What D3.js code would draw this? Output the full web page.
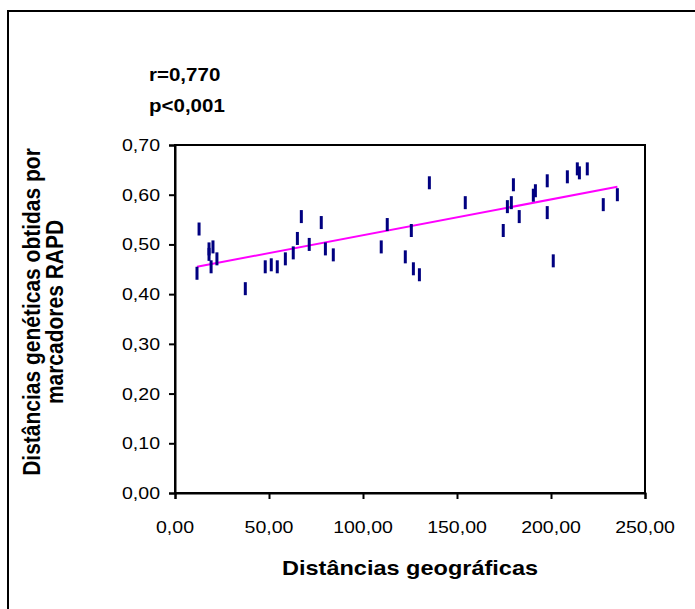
<!DOCTYPE html>
<html><head><meta charset="utf-8">
<script src="https://cdn.jsdelivr.net/npm/d3@7"></script>
<style>body{margin:0;background:#fff} svg{display:block}</style>
</head><body>
<svg id="c" width="695" height="609"></svg>
<script>
// Data
const geoDist = [11.7, 12.8, 18.1, 18.1, 19.2, 20.2, 22.3, 37.4, 48.0, 51.2, 54.4, 58.7, 62.9, 65.1, 67.2, 71.4, 77.8, 80.0, 84.2, 109.7, 112.9, 122.5, 125.7, 126.8, 130.0, 135.3, 154.4, 174.6, 176.8, 178.9, 180.0, 183.1, 190.6, 191.7, 198.0, 198.0, 201.2, 208.7, 214.0, 215.1, 219.3, 227.8, 235.3];
const genDist = [0.442, 0.531, 0.491, 0.480, 0.455, 0.495, 0.471, 0.411, 0.455, 0.459, 0.455, 0.471, 0.483, 0.512, 0.556, 0.500, 0.544, 0.491, 0.479, 0.495, 0.540, 0.475, 0.528, 0.451, 0.439, 0.624, 0.584, 0.528, 0.576, 0.584, 0.620, 0.556, 0.599, 0.608, 0.628, 0.564, 0.467, 0.636, 0.652, 0.644, 0.652, 0.580, 0.600];
const xTicks = [0, 50, 100, 150, 200, 250];
const yTicks = [0, 0.1, 0.2, 0.3, 0.4, 0.5, 0.6, 0.7];
const trendIntercept = 0.4467;
const trendSlope = 0.000719;
const statsLabels = ["r=0,770", "p<0,001"];
const xTitle = "Distâncias geográficas";
const yTitleLines = ["Distâncias genéticas obtidas por", "marcadores RAPD"];

const svg = d3.select("#c");
const font = "'Liberation Sans', Arial, sans-serif";

const x = d3.scaleLinear().domain([0, 250]).range([175, 645]);
const y = d3.scaleLinear().domain([0, 0.7]).range([493, 145]);
const fmt = v => d3.format(".2f")(v).replace(".", ",");

// outer frame
svg.append("rect").attr("x", 8).attr("y", 11).attr("width", 720).attr("height", 640)
  .attr("fill", "none").attr("stroke", "#000").attr("stroke-width", 2);

// plot area border
svg.append("rect").attr("x", x(0)).attr("y", y(0.7)).attr("width", x(250) - x(0)).attr("height", y(0) - y(0.7))
  .attr("fill", "none").attr("stroke", "#000").attr("stroke-width", 2);

// axes
const xAxis = d3.axisBottom(x).tickValues(xTicks).tickSize(6).tickFormat(fmt);
const yAxis = d3.axisLeft(y).tickValues(yTicks).tickSize(6).tickFormat(fmt);

const gx = svg.append("g").attr("transform", `translate(0,${y(0)})`).call(xAxis);
const gy = svg.append("g").attr("transform", `translate(${x(0)},0)`).call(yAxis);
[gx, gy].forEach(g => {
  g.select(".domain").attr("stroke", "#000").attr("stroke-width", 2);
  g.selectAll(".tick line").attr("stroke", "#000").attr("stroke-width", 2);
});
gx.selectAll(".tick text").remove();
gy.selectAll(".tick text").remove();

// tick labels (stretched like the original)
xTicks.forEach(t => {
  svg.append("text").attr("transform", `translate(${x(t)},533) scale(1.15,1)`)
    .attr("text-anchor", "middle").attr("font-family", font).attr("font-size", 17).attr("fill", "#000").text(fmt(t));
});
yTicks.forEach(t => {
  svg.append("text").attr("transform", `translate(160,${y(t) + 6}) scale(1.15,1)`)
    .attr("text-anchor", "end").attr("font-family", font).attr("font-size", 17).attr("fill", "#000").text(fmt(t));
});

// trend line
const x0 = d3.min(geoDist), x1 = d3.max(geoDist);
svg.append("line")
  .attr("x1", x(x0)).attr("y1", y(trendIntercept + trendSlope * x0))
  .attr("x2", x(x1)).attr("y2", y(trendIntercept + trendSlope * x1))
  .attr("stroke", "#ff00ff").attr("stroke-width", 2);

// points (vertical dash markers)
svg.append("g").selectAll("rect").data(geoDist.map((d, i) => [d, genDist[i]])).join("rect")
  .attr("x", d => x(d[0]) - 1.5).attr("y", d => y(d[1]) - 6.5)
  .attr("width", 3).attr("height", 13).attr("fill", "#000080");

// stats labels
statsLabels.forEach((s, i) => {
  svg.append("text").attr("transform", `translate(149,${81 + i * 31}) scale(1.08,1)`)
    .attr("font-family", font).attr("font-weight", "bold").attr("font-size", 19).attr("fill", "#000").text(s);
});

// x title
svg.append("text").attr("transform", `translate(410,575) scale(1.12,1)`)
  .attr("text-anchor", "middle").attr("font-family", font).attr("font-weight", "bold").attr("font-size", 21)
  .attr("fill", "#000").text(xTitle);

// y title
yTitleLines.forEach((s, i) => {
  svg.append("text").attr("transform", `translate(${40 + i * 23},312) rotate(-90) scale(1,1.15)`)
    .attr("text-anchor", "middle").attr("font-family", font).attr("font-weight", "bold").attr("font-size", 21)
    .attr("fill", "#000").text(s);
});
</script>
</body></html>
